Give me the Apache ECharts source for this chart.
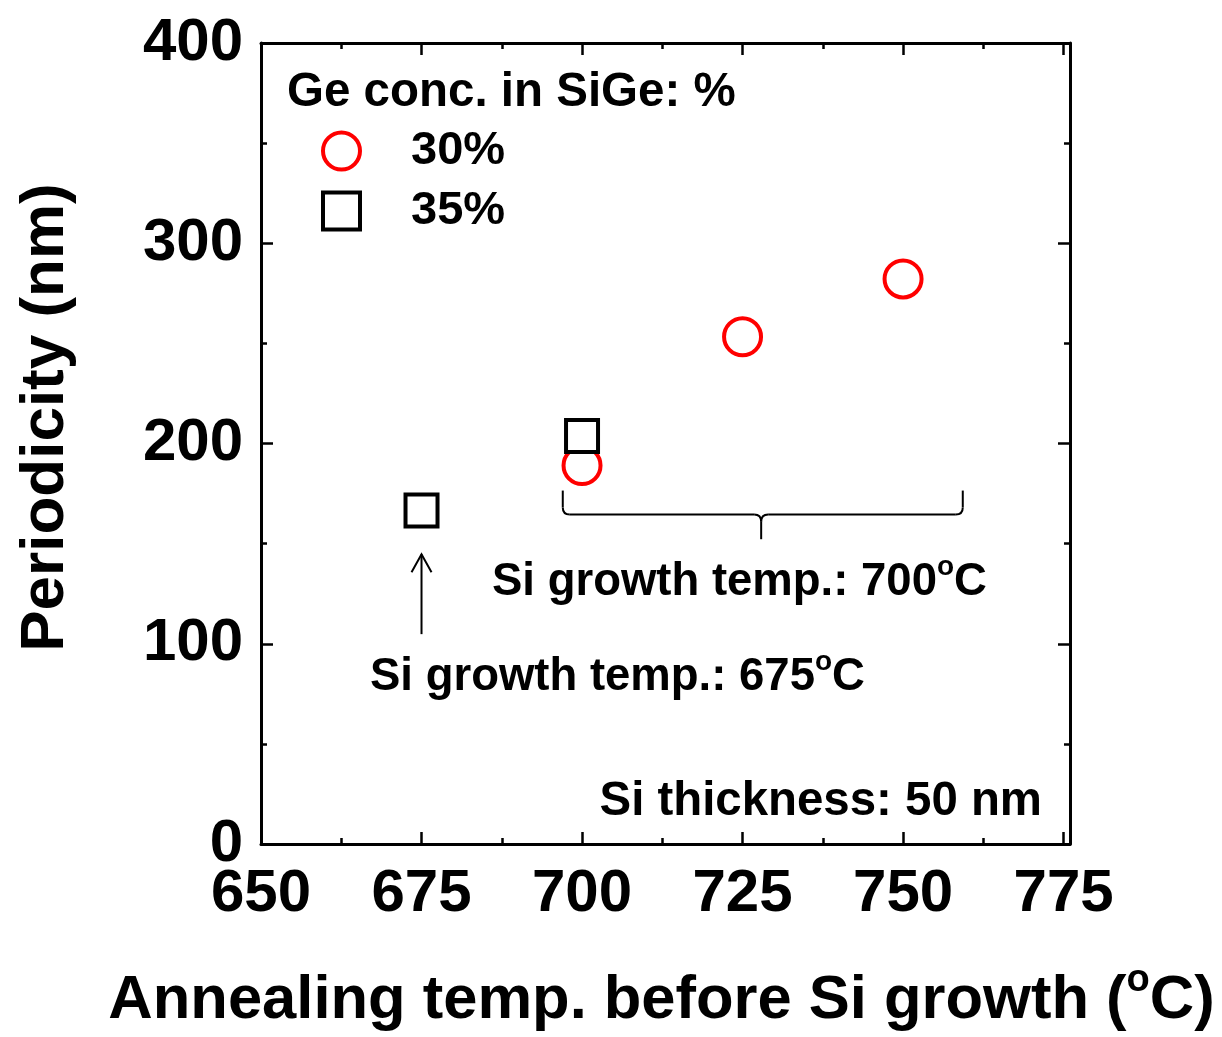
<!DOCTYPE html>
<html>
<head>
<meta charset="utf-8">
<script src="https://cdn.jsdelivr.net/npm/echarts@6/dist/echarts.min.js"></script>
<style>
  html, body { margin: 0; padding: 0; background: #fff; }
  #chart { width: 1222px; height: 1037px; }
</style>
</head>
<body>
<div id="chart"></div>
<script>
// Periodicity vs. annealing temperature, grouped by Ge concentration
const seriesNames = ['30%', '35%'];
const ge30 = [[700, 189], [725, 253.3], [750, 282.2]];
const ge35 = [[675, 166.5], [700, 203.8]];

// Axis ticks
const xMajorTicks = [650, 675, 700, 725, 750, 775];
const xMinorTicks = [662.5, 687.5, 712.5, 737.5, 762.5];
const yTickStep = 100;

// Annotation anchors in data units
const braceXs = [697, 727.9, 759.3];     // left end, tip, right end
const braceYs = [176.5, 164.6, 152.2];   // end tops, bar, tip
const arrowX = 675;
const arrowYs = [104.8, 144.7];          // tail, head

const FONT = '"Liberation Sans", Arial, Helvetica, sans-serif';
const chart = echarts.init(document.getElementById('chart'), null, { renderer: 'canvas' });

const axisLine = { show: true, lineStyle: { color: '#000', width: 3 } };
const majorTick = (vals) => ({ show: true, inside: true, length: 12, customValues: vals, lineStyle: { color: '#000', width: 2.5 } });
const minorTick = (vals) => ({ show: true, inside: true, length: 6, customValues: vals, lineStyle: { color: '#000', width: 2.5 } });
const xBase = { type: 'value', gridIndex: 0, min: 650, max: 776, splitLine: { show: false } };

chart.setOption({
  animation: false,
  backgroundColor: '#fff',
  grid: { left: 261, right: 152, top: 43, bottom: 189, containLabel: false },
  textStyle: { fontFamily: FONT },
  xAxis: [
    Object.assign({}, xBase, {
      position: 'bottom',
      axisLine: axisLine,
      axisTick: majorTick(xMajorTicks),
      axisLabel: { customValues: xMajorTicks, color: '#000', fontSize: 60, fontWeight: 'bold', fontFamily: FONT, margin: 20 },
      name: '{t|Annealing temp. before Si growth (}{s|o}{t|C)}',
      nameLocation: 'middle',
      nameGap: 118,
      nameTextStyle: {
        padding: [0, 8, 0, 0],
        rich: {
          t: { fontSize: 61.5, fontWeight: 'bold', fontFamily: FONT, color: '#000', lineHeight: 70, verticalAlign: 'bottom' },
          s: { fontSize: 38, fontWeight: 'bold', fontFamily: FONT, color: '#000', lineHeight: 30, verticalAlign: 'top' }
        }
      }
    }),
    Object.assign({}, xBase, {
      position: 'bottom',
      axisLine: { show: false },
      axisTick: minorTick(xMinorTicks),
      axisLabel: { show: false }
    }),
    Object.assign({}, xBase, {
      position: 'top',
      axisLine: axisLine,
      axisTick: majorTick(xMajorTicks),
      axisLabel: { show: false }
    }),
    Object.assign({}, xBase, {
      position: 'top',
      axisLine: { show: false },
      axisTick: minorTick(xMinorTicks),
      axisLabel: { show: false }
    })
  ],
  yAxis: [
    {
      type: 'value', position: 'left', min: 0, max: 400, interval: yTickStep,
      splitLine: { show: false },
      axisLine: axisLine,
      axisTick: { show: true, inside: true, length: 12, lineStyle: { color: '#000', width: 2.5 } },
      minorTick: { show: true, splitNumber: 2, length: 6, lineStyle: { color: '#000', width: 2.5 } },
      axisLabel: { color: '#000', fontSize: 60, fontWeight: 'bold', fontFamily: FONT, margin: 18 },
      name: 'Periodicity (nm)',
      nameLocation: 'middle',
      nameRotate: 90,
      nameGap: 184,
      nameTextStyle: { color: '#000', fontSize: 62, fontWeight: 'bold', fontFamily: FONT, padding: [0, 0, 0, 52] }
    },
    {
      type: 'value', position: 'right', min: 0, max: 400, interval: yTickStep,
      splitLine: { show: false },
      axisLine: axisLine,
      axisTick: { show: true, inside: true, length: 12, lineStyle: { color: '#000', width: 2.5 } },
      minorTick: { show: true, splitNumber: 2, length: 6, lineStyle: { color: '#000', width: 2.5 } },
      axisLabel: { show: false }
    }
  ],
  legend: {
    data: seriesNames,
    orient: 'vertical',
    left: 316,
    top: 120,
    itemWidth: 37,
    itemHeight: 37,
    itemGap: 8,
    itemStyle: { borderWidth: 4 },
    textStyle: { color: '#000', fontSize: 47, fontWeight: 'bold', fontFamily: FONT, lineHeight: 52, padding: [0, 0, 0, 46] },
    selectedMode: false
  },
  series: [
    {
      name: seriesNames[0], type: 'scatter', xAxisIndex: 0, yAxisIndex: 0,
      symbol: 'circle', symbolSize: 37,
      itemStyle: { color: '#fff', borderColor: '#ff0000', borderWidth: 4, opacity: 1 },
      data: ge30, z: 3
    },
    {
      name: seriesNames[1], type: 'scatter', xAxisIndex: 0, yAxisIndex: 0,
      symbol: 'rect', symbolSize: 32,
      itemStyle: { color: '#fff', borderColor: '#000', borderWidth: 4, opacity: 1 },
      data: ge35, z: 4
    }
  ]
});

// Annotations: legend heading, growth-temperature notes, brace and arrow
const px = (x, y) => chart.convertToPixel({ gridIndex: 0 }, [x, y]);
const bL = px(braceXs[0], braceYs[0]);
const bBar = px(braceXs[1], braceYs[1]);
const bTip = px(braceXs[1], braceYs[2]);
const bR = px(braceXs[2], braceYs[0]);
const r = 7;
const stroke = { stroke: '#000', lineWidth: 2, fill: null };
const seg = (x1, y1, x2, y2) => ({ type: 'line', z: 10, shape: { x1: x1, y1: y1, x2: x2, y2: y2 }, style: stroke });
const curve = (x1, y1, cx, cy, x2, y2) => ({ type: 'bezierCurve', z: 10, shape: { x1: x1, y1: y1, cpx1: cx, cpy1: cy, x2: x2, y2: y2 }, style: stroke });

const brace = [
  seg(bL[0], bL[1], bL[0], bBar[1] - r),
  curve(bL[0], bBar[1] - r, bL[0], bBar[1], bL[0] + r, bBar[1]),
  seg(bL[0] + r, bBar[1], bBar[0] - r, bBar[1]),
  curve(bBar[0] - r, bBar[1], bBar[0], bBar[1], bBar[0], bBar[1] + r),
  curve(bBar[0] + r, bBar[1], bBar[0], bBar[1], bBar[0], bBar[1] + r),
  seg(bBar[0], bBar[1] + r, bTip[0], bTip[1]),
  seg(bBar[0] + r, bBar[1], bR[0] - r, bBar[1]),
  curve(bR[0] - r, bBar[1], bR[0], bBar[1], bR[0], bBar[1] - r),
  seg(bR[0], bBar[1] - r, bR[0], bR[1])
];

const aTail = px(arrowX, arrowYs[0]);
const aHead = px(arrowX, arrowYs[1]);

const noteRich = {
  t: { fontSize: 45.5, fontWeight: 'bold', fontFamily: FONT, fill: '#000', lineHeight: 52, verticalAlign: 'bottom' },
  s: { fontSize: 28, fontWeight: 'bold', fontFamily: FONT, fill: '#000', lineHeight: 20, verticalAlign: 'top' }
};
const plainText = (x, y, text, size, align) => ({
  type: 'text', x: x, y: y, z: 10,
  style: { text: text, fill: '#000', font: 'bold ' + size + 'px ' + FONT, textAlign: align || 'left', textVerticalAlign: 'middle' }
});

chart.setOption({
  graphic: [
    plainText(287, 93, 'Ge conc. in SiGe: %', 47.5),
    plainText(1042, 802, 'Si thickness: 50 nm', 47.4, 'right'),
    {
      type: 'text', x: 492, y: 579, z: 10,
      style: { text: '{t|Si growth temp.: 700}{s|o}{t|C}', rich: noteRich, textAlign: 'left', textVerticalAlign: 'middle' }
    },
    {
      type: 'text', x: 370, y: 674, z: 10,
      style: { text: '{t|Si growth temp.: 675}{s|o}{t|C}', rich: noteRich, textAlign: 'left', textVerticalAlign: 'middle' }
    },
    seg(aTail[0], aTail[1], aHead[0], aHead[1]),
    {
      type: 'polyline', z: 10,
      shape: { points: [[aHead[0] - 10, aHead[1] + 18], aHead, [aHead[0] + 10, aHead[1] + 18]] },
      style: stroke
    }
  ].concat(brace)
});
</script>
</body>
</html>
